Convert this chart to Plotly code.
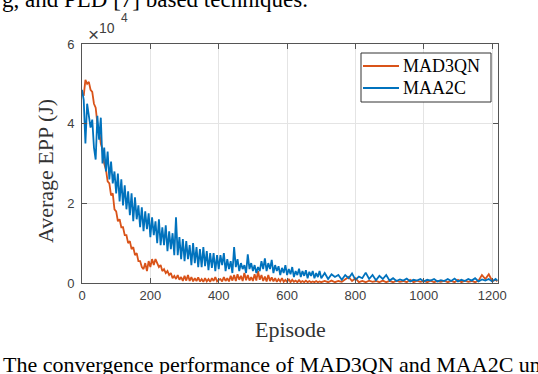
import plotly.graph_objects as go

# episodes: dense sampling up to 700, coarser in the flat tail
ep_maa2c = list(range(0, 701, 5)) + list(range(710, 1211, 10)) + [1215]
ep_mad3qn = list(range(5, 701, 5)) + list(range(710, 1211, 10)) + [1215]

# average EPP, in units of 1e4 J
maa2c_epp = [
    4.85, 4.6, 3.5, 4.5, 4.2, 3.9, 4.1, 3.4, 3.1, 4.2,
    3.6, 4.15, 3.0, 3.4, 2.8, 3.3, 2.6, 3.05, 2.5, 2.8,
    2.25, 2.75, 2.05, 2.6, 1.95, 2.45, 1.85, 2.3, 1.7, 2.25,
    1.55, 2.15, 1.6, 1.95, 1.4, 1.9, 1.3, 1.8, 1.35, 1.75,
    1.15, 1.65, 1.2, 1.55, 1.0, 1.6, 0.95, 1.4, 0.95, 1.45,
    0.8, 1.3, 0.85, 1.25, 0.7, 1.65, 0.7, 1.15, 0.6, 1.1,
    0.55, 1.05, 0.6, 0.95, 0.45, 1.0, 0.5, 0.9, 0.4, 0.85,
    0.4, 0.9, 0.42, 0.8, 0.32, 0.75, 0.38, 0.75, 0.3, 0.7,
    0.35,
    0.7, 0.45, 0.75, 0.3, 0.6, 0.35, 0.55, 0.25, 0.9, 0.4,
    0.6, 0.3, 0.5, 0.35, 0.45, 0.25, 0.72, 0.35, 0.5, 0.3,
    0.45, 0.25, 0.4, 0.3, 0.55, 0.35, 0.62, 0.3, 0.5, 0.35,
    0.58, 0.25, 0.45, 0.3, 0.42, 0.2, 0.38, 0.25, 0.45, 0.2,
    0.35, 0.22, 0.4, 0.15, 0.3, 0.2, 0.36, 0.15, 0.3, 0.18,
    0.32, 0.12, 0.28, 0.18, 0.3, 0.12, 0.25, 0.15, 0.3, 0.12,
    0.25, 0.1, 0.22, 0.15, 0.2, 0.08, 0.2, 0.12, 0.24, 0.08,
    0.16, 0.12, 0.26, 0.1, 0.2, 0.07, 0.18, 0.1, 0.2, 0.06,
    0.12, 0.05, 0.09, 0.06, 0.11, 0.04, 0.08, 0.06, 0.1, 0.04,
    0.08, 0.06, 0.1, 0.04, 0.07, 0.05, 0.1, 0.05, 0.11, 0.04,
    0.08, 0.05, 0.1, 0.06, 0.12, 0.04, 0.09, 0.06, 0.1, 0.04,
    0.1, 0.06,
]

mad3qn_epp = [
    4.7, 5.1, 5.0, 5.05, 4.85, 4.8, 4.5, 4.4, 4.0,
    3.85, 3.5, 3.35, 3.0, 2.85, 2.55, 2.5, 2.2, 2.25, 1.85,
    1.8, 1.55, 1.6, 1.4, 1.4, 1.2, 1.2, 1.0, 1.05, 0.85,
    0.9, 0.7, 0.75, 0.55, 0.55, 0.4, 0.35, 0.5, 0.3, 0.55,
    0.4, 0.6, 0.45, 0.6, 0.5, 0.4, 0.45, 0.3, 0.35, 0.25,
    0.3, 0.2, 0.25, 0.12, 0.18, 0.1, 0.2, 0.08, 0.15, 0.05,
    0.18, 0.06, 0.2, 0.05, 0.15, 0.04, 0.12, 0.05, 0.14, 0.04,
    0.1, 0.03, 0.12, 0.04, 0.1, 0.03, 0.12, 0.05, 0.15, 0.04,
    0.08,
    0.1, 0.04, 0.15, 0.05, 0.12, 0.04, 0.18, 0.06, 0.2, 0.05,
    0.22, 0.08, 0.18, 0.05, 0.25, 0.07, 0.2, 0.06, 0.15, 0.05,
    0.22, 0.06, 0.3, 0.08, 0.2, 0.05, 0.16, 0.04, 0.2, 0.05,
    0.14, 0.04, 0.12, 0.03, 0.1, 0.04, 0.12, 0.03, 0.08, 0.03,
    0.1, 0.02, 0.08, 0.03, 0.06, 0.02, 0.07, 0.02, 0.05, 0.02,
    0.06, 0.02, 0.05, 0.02, 0.04, 0.02, 0.05, 0.02, 0.04, 0.02,
    0.05, 0.02, 0.06, 0.02, 0.05, 0.03, 0.1, 0.15, 0.05, 0.12,
    0.02, 0.05, 0.02, 0.06, 0.03, 0.05, 0.02, 0.06, 0.02, 0.05,
    0.02, 0.06, 0.03, 0.05, 0.02, 0.08, 0.02, 0.06, 0.03, 0.05,
    0.02, 0.06, 0.02, 0.05, 0.03, 0.06, 0.02, 0.05, 0.02, 0.08,
    0.02, 0.06, 0.03, 0.05, 0.02, 0.06, 0.2, 0.1, 0.22, 0.05,
    0.08, 0.04,
]

series_names = ["MAD3QN", "MAA2C"]
series_colors = ["#D95319", "#0072BD"]
x_ticks = [0, 200, 400, 600, 800, 1000, 1200]
y_ticks = [0, 2, 4, 6]

SERIF = "Liberation Serif, Times New Roman, serif"
SANS = "Liberation Sans, Arial, sans-serif"
AXIS_COL = "#555555"
TICK_COL = "#404040"
LINE_W = 1.8

# plot area in pixels: x 82..498, y 44..283
L, R, T, B = 82, 498, 44, 283


def px(x):
    return (x - L) / (R - L)


def py(y):
    return (B - y) / (B - T)


fig = go.Figure()
fig.add_trace(go.Scatter(x=ep_mad3qn, y=mad3qn_epp, mode="lines", name=series_names[0],
                         line=dict(color=series_colors[0], width=LINE_W)))
fig.add_trace(go.Scatter(x=ep_maa2c, y=maa2c_epp, mode="lines", name=series_names[1],
                         line=dict(color=series_colors[1], width=LINE_W)))

axis_common = dict(showline=True, linecolor=AXIS_COL, linewidth=1, mirror="ticks",
                   ticks="inside", ticklen=5, tickcolor=AXIS_COL,
                   showgrid=True, gridcolor="#e4e4e4", gridwidth=1, zeroline=False,
                   automargin=False,
                   tickfont=dict(family=SANS, size=13, color=TICK_COL))

fig.update_xaxes(range=[0, 1217], tickvals=x_ticks, **axis_common)
fig.update_yaxes(range=[0, 6], tickvals=y_ticks, ticklabelstandoff=4, **axis_common)

annotations = [
    dict(text="Episode", x=px(290), y=py(329), font=dict(family=SERIF, size=22, color="#333")),
    dict(text="Average EPP (J)", x=px(45), y=py(171), textangle=-90,
         font=dict(family=SERIF, size=22, color="#333")),
    dict(text="×", x=px(93), y=py(35), font=dict(family=SANS, size=19, color=TICK_COL)),
    dict(text="10", x=px(107), y=py(28), font=dict(family=SANS, size=14, color=TICK_COL)),
    dict(text="4", x=px(124), y=py(18), font=dict(family=SANS, size=12, color=TICK_COL)),
    dict(text="g, and PLD [7] based techniques.", x=px(0), xanchor="left",
         y=py(0), font=dict(family=SERIF, size=23, color="black")),
    dict(text="The convergence performance of MAD3QN and MAA2C under", x=px(1), xanchor="left",
         y=py(364), font=dict(family=SERIF, size=22, color="black")),
]
# hand-placed legend, matching the boxed MATLAB legend
shapes = [dict(type="rect", xref="paper", yref="paper", x0=px(361), x1=px(491), y0=py(102), y1=py(53),
               line=dict(color="#333", width=1), fillcolor="white", layer="above")]
for i, (name, col) in enumerate(zip(series_names, series_colors)):
    yy = 66 + 22 * i
    shapes.append(dict(type="line", xref="paper", yref="paper", x0=px(363), x1=px(399),
                       y0=py(yy), y1=py(yy), line=dict(color=col, width=LINE_W), layer="above"))
    annotations.append(dict(text=name, x=px(401), xanchor="left", y=py(yy),
                            font=dict(family=SERIF, size=18, color="black")))

for a in annotations:
    a.setdefault("xanchor", "center")
    a.update(xref="paper", yref="paper", showarrow=False, yanchor="middle")

fig.update_layout(
    width=538, height=374,
    margin=dict(l=L, r=538 - R, t=T, b=374 - B),
    paper_bgcolor="white", plot_bgcolor="white",
    showlegend=False,
    annotations=annotations,
    shapes=shapes,
)

# drop the default page margin so the figure sits at the window's corner
fig.write_html("out.html", config={"displayModeBar": False},
               post_script="document.body.style.margin='0';")
